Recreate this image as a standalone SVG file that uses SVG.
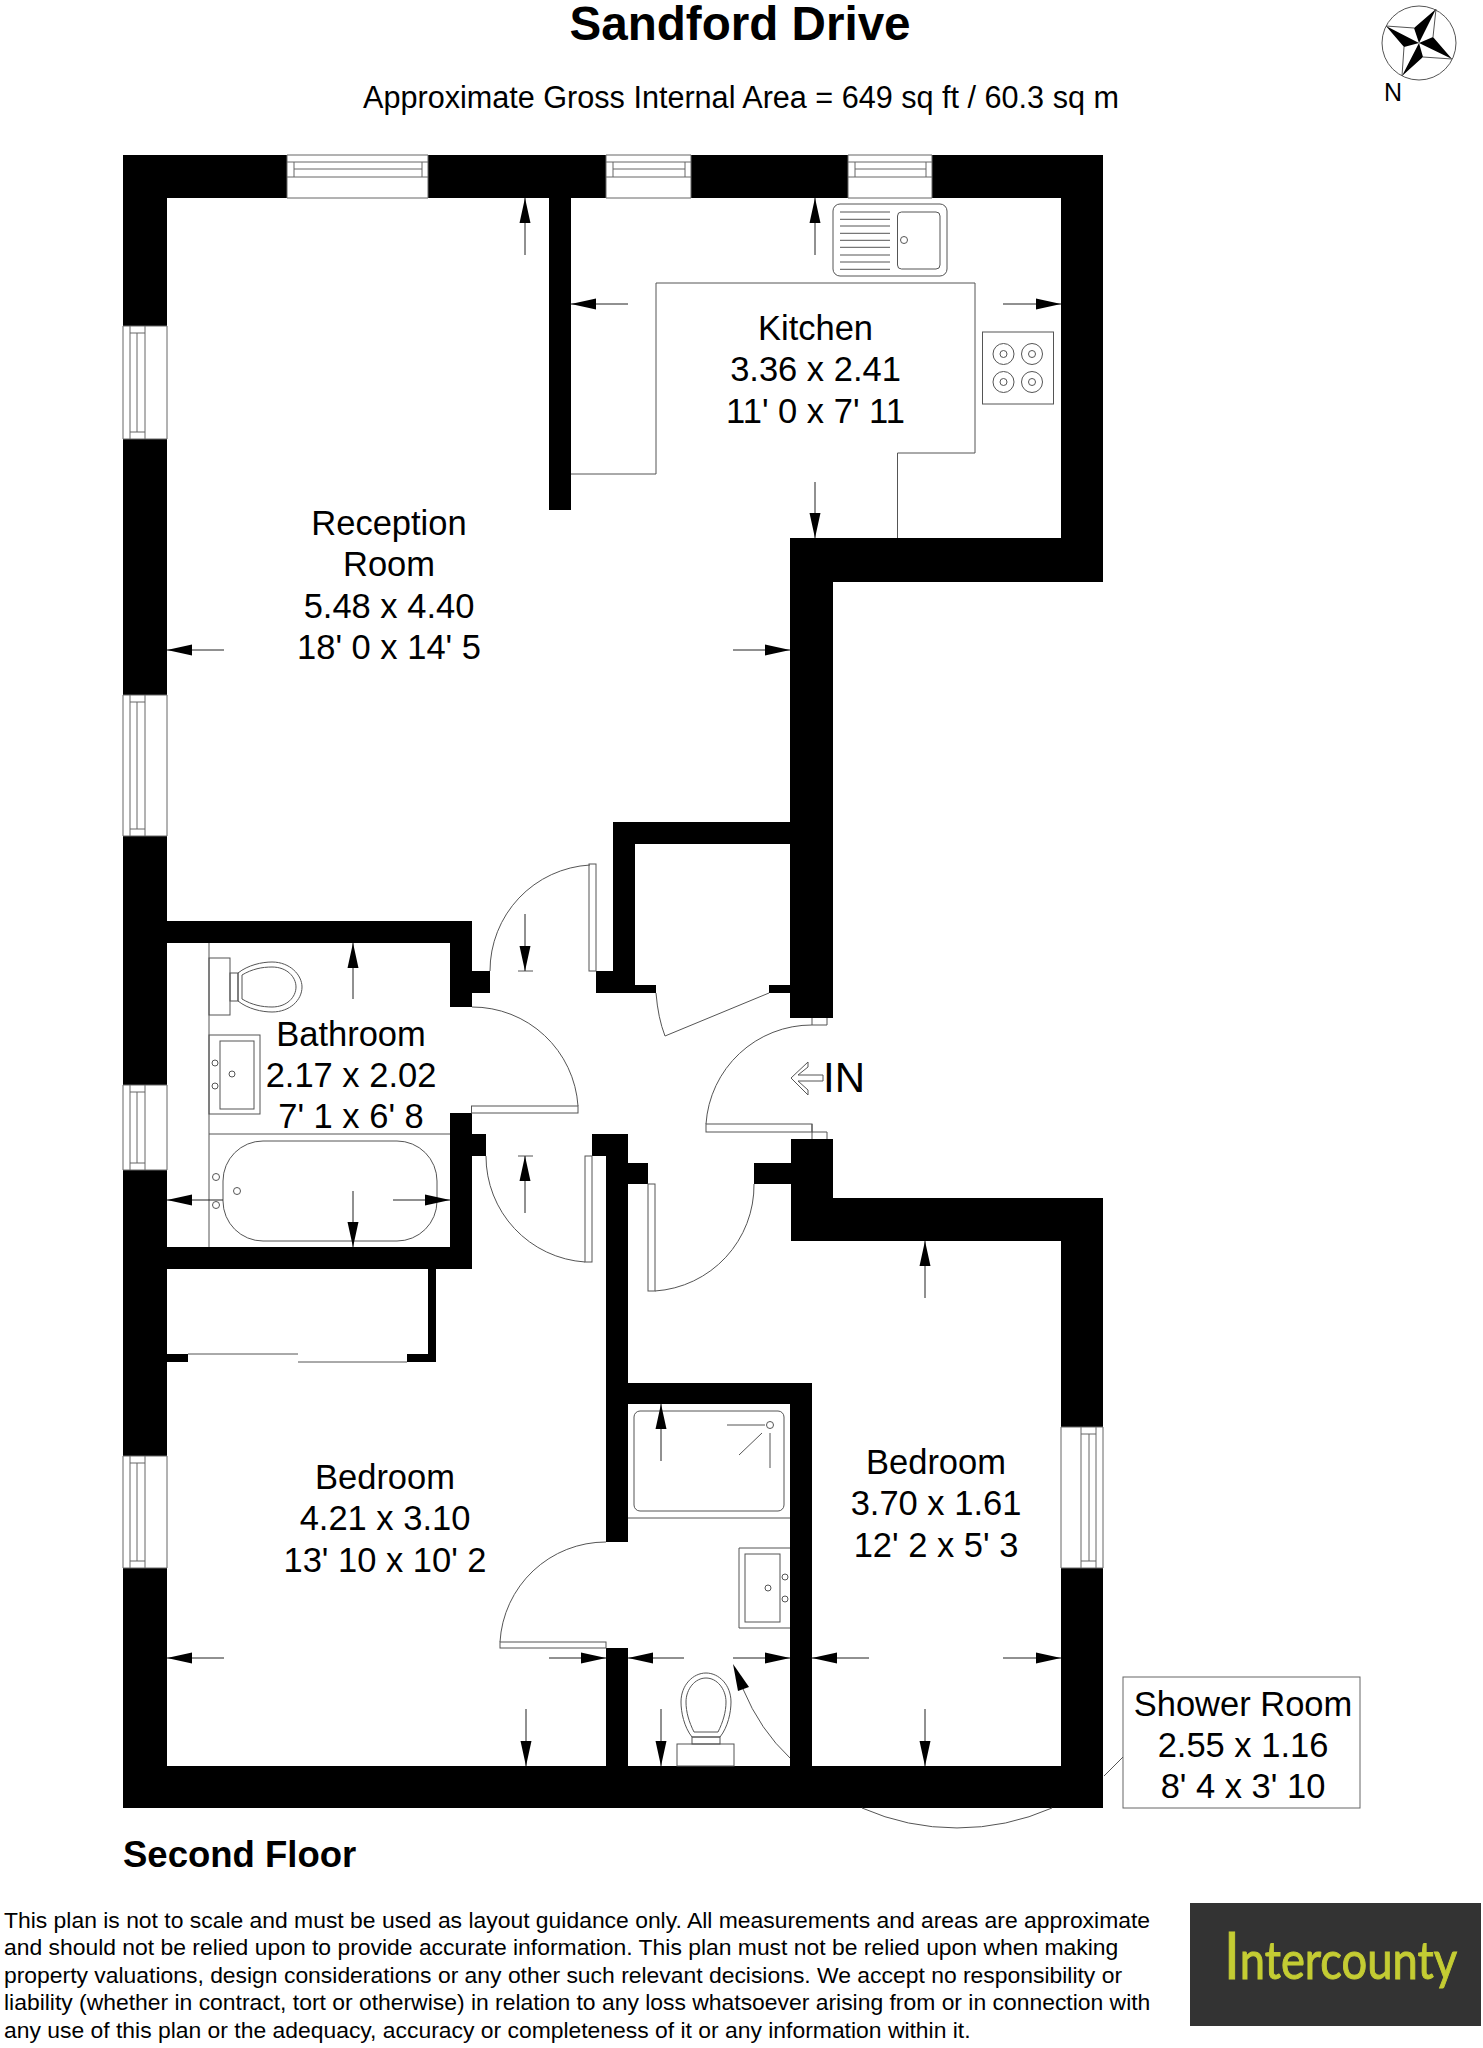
<svg xmlns="http://www.w3.org/2000/svg" width="1483" height="2048" viewBox="0 0 1483 2048">
<style>
text{font-family:"Liberation Sans",Arial,sans-serif;fill:#000}
.room{font-size:34.5px;text-anchor:middle}
.disc{font-size:22.9px}
.thin{fill:none;stroke:#555;stroke-width:1}
.win{fill:none;stroke:#666;stroke-width:1}
.dim{stroke:#222;stroke-width:1;fill:none;marker-end:url(#head)}
.wall{fill:#000}
</style>
<defs>
<marker id="head" markerUnits="userSpaceOnUse" markerWidth="26" markerHeight="12" refX="25" refY="6" orient="auto"><path d="M0,0.5L25,6L0,11.5Z" fill="#000"/></marker>
</defs>
<rect width="1483" height="2048" fill="#fff"/>
<text x="740" y="39.500" font-size="47.6" font-weight="bold" text-anchor="middle">Sandford Drive</text>
<text x="741" y="107.500" font-size="30.6" text-anchor="middle">Approximate Gross Internal Area = 649 sq ft / 60.3 sq m</text>
<g id="compass">
<circle cx="1419" cy="43" r="37" fill="#fff" stroke="#555" stroke-width="1"/>
<path d="M1436,9L1433,37M1452,59L1423,57M1402,76L1404,47M1386,26L1414,28" class="thin"/>
<path d="M1419,43L1436,9L1414,28ZM1419,43L1452,59L1433,37ZM1419,43L1402,76L1423,57ZM1419,43L1386,26L1404,47Z" fill="#000"/>
<text x="1384" y="101" font-size="25">N</text>
</g>
<g id="walls" class="wall">
<rect x="123" y="155" width="164" height="43"/><rect x="428" y="155" width="178" height="43"/><rect x="691" y="155" width="157" height="43"/><rect x="932" y="155" width="171" height="43"/>
<rect x="123" y="155" width="44" height="171"/><rect x="123" y="439" width="44" height="256"/><rect x="123" y="836" width="44" height="249"/><rect x="123" y="1170" width="44" height="286"/><rect x="123" y="1568" width="44" height="240"/>
<rect x="1061" y="155" width="42" height="427"/><rect x="790" y="538" width="313" height="44"/><rect x="790" y="538" width="43" height="480"/>
<rect x="549" y="198" width="22" height="312"/>
<rect x="167" y="921" width="305" height="22"/><rect x="450" y="921" width="22" height="86"/><rect x="472" y="971" width="18" height="22"/>
<rect x="450" y="1113" width="22" height="156"/><rect x="472" y="1134" width="14" height="22"/><rect x="167" y="1247" width="305" height="22"/>
<rect x="613" y="822" width="178" height="22"/><rect x="613" y="822" width="22" height="171"/><rect x="596" y="971" width="39" height="22"/><rect x="635" y="985" width="21" height="8"/><rect x="769" y="985" width="22" height="8"/>
<rect x="592" y="1134" width="36" height="22"/><rect x="606" y="1134" width="22" height="408"/><rect x="628" y="1163" width="20" height="21"/>
<rect x="606" y="1648" width="22" height="118"/>
<rect x="628" y="1383" width="184" height="21"/><rect x="790" y="1383" width="22" height="383"/>
<rect x="754" y="1163" width="37" height="21"/><rect x="791" y="1139" width="42" height="102"/><rect x="791" y="1198" width="312" height="43"/>
<rect x="1061" y="1198" width="42" height="229"/><rect x="1061" y="1568" width="42" height="240"/>
<rect x="123" y="1766" width="980" height="42"/>
<rect x="428" y="1269" width="8" height="93"/><rect x="167" y="1354" width="21" height="8"/><rect x="407" y="1354" width="29" height="8"/>
</g>
<g id="windows" class="win">
<path d="M287,155H428M287,162H428M294,169H422M287,177H428M287,198H428M294,162V177M422,162V177M287,155V198M428,155V198"/>
<path d="M606,155H691M606,162H691M613,169H685M606,177H691M606,198H691M613,162V177M685,162V177M606,155V198M691,155V198"/>
<path d="M848,155H932M848,162H932M855,169H926M848,177H932M848,198H932M855,162V177M926,162V177M848,155V198M932,155V198"/>
<path d="M123,326V439M130,326V439M137,333V432M145,326V439M167,326V439M130,333H145M130,432H145M123,326H167M123,439H167"/>
<path d="M123,695V836M130,695V836M137,702V829M145,695V836M167,695V836M130,702H145M130,829H145M123,695H167M123,836H167"/>
<path d="M123,1085V1170M130,1085V1170M137,1092V1163M145,1085V1170M167,1085V1170M130,1092H145M130,1163H145M123,1085H167M123,1170H167"/>
<path d="M123,1456V1568M130,1456V1568M137,1463V1561M145,1456V1568M167,1456V1568M130,1463H145M130,1561H145M123,1456H167M123,1568H167"/>
<path d="M1103,1427V1568M1096,1427V1568M1089,1434V1561M1081,1427V1568M1061,1427V1568M1081,1434H1096M1081,1561H1096M1061,1427H1103M1061,1568H1103"/>
</g>
<g id="doors" class="thin">
<rect x="589" y="864" width="7" height="107"/><path d="M490,971A106,106 0 0 1 590,865"/>
<rect x="471.500" y="1106" width="106.500" height="7"/><path d="M472,1007A106,106 0 0 1 578,1106"/>
<rect x="585" y="1156" width="7" height="106"/><path d="M486,1156A106,106 0 0 0 585,1262"/>
<rect x="648" y="1184" width="7" height="107"/><path d="M655,1291A106,106 0 0 0 754,1184"/>
<rect x="706" y="1124" width="106" height="8"/><path d="M812,1124V1139M812,1132H827V1139M812,1018V1025M827,1018V1025H812"/><path d="M706,1124A106,106 0 0 1 812,1025"/>
<path d="M656,993Q658,1018 665,1036L769,993"/>
<rect x="500" y="1642" width="106" height="6"/><path d="M606,1542A106,106 0 0 0 500,1642"/>
<path d="M862,1808A236,236 0 0 0 1052,1808"/>
<path d="M188,1354H298M298,1362H407"/>
<path d="M518,971H533M518,1156H533"/>
<path d="M790,1758Q760,1730 743,1689"/>
<path d="M733,1664L738,1691L749,1687Z" fill="#000" stroke="none"/>
</g>
<g id="kitchen-fixtures" class="thin">
<path d="M571,474H656V283H975V453H897.500V538"/>
<rect x="833" y="204" width="114" height="72" rx="7"/><rect x="897.500" y="212" width="42.500" height="57" rx="4"/><circle cx="904" cy="240" r="3.500"/>
<path d="M840,212H890M840,219.300H890M840,226H890M840,233.300H890M840,240.300H890M840,247.300H890M840,255H890M840,262H890M840,269.300H890"/>
<rect x="982.500" y="332" width="71" height="72"/>
<circle cx="1003.500" cy="354" r="10.500"/><circle cx="1032" cy="354" r="10.500"/><circle cx="1003.500" cy="382" r="10.500"/><circle cx="1032" cy="382" r="10.500"/>
<circle cx="1003.500" cy="354" r="3.500"/><circle cx="1032" cy="354" r="3.500"/><circle cx="1003.500" cy="382" r="3.500"/><circle cx="1032" cy="382" r="3.500"/>
</g>
<g id="bathroom-fixtures" class="thin">
<path d="M209,943V1247M209,1134H450"/>
<rect x="223" y="1141" width="214" height="100" rx="40"/>
<circle cx="216" cy="1177" r="3.500"/><circle cx="216" cy="1205" r="3.500"/><circle cx="237" cy="1191" r="3.500"/>
<rect x="209" y="958" width="21" height="57"/><rect x="230" y="973" width="8" height="28"/>
<path d="M238,973C248,965 262,962 272,962C290,962 302,975 302,987C302,1000 290,1012 272,1012C262,1012 248,1009 238,1001Z"/>
<path d="M242,975C252,969 262,967 272,967C287,967 296,977 296,987C296,997 287,1007 272,1007C262,1007 252,1005 242,999Z"/>
<rect x="209" y="1035" width="51" height="79"/><rect x="220" y="1041" width="34" height="68"/>
<circle cx="215" cy="1063" r="3"/><circle cx="215" cy="1086" r="3"/><circle cx="232" cy="1074" r="3"/>
</g>
<g id="shower-fixtures" class="thin">
<rect x="634" y="1411" width="150" height="100" rx="6"/><path d="M628,1518H790"/>
<circle cx="770" cy="1425" r="3.500"/><path d="M727,1425H765M770,1433V1468M762,1433L739,1455"/>
<path d="M790,1548H739V1628H790"/><rect x="745" y="1554" width="35" height="68"/>
<circle cx="785" cy="1577" r="3"/><circle cx="785" cy="1599" r="3"/><circle cx="768" cy="1588" r="3"/>
<rect x="677" y="1744" width="57" height="22"/><rect x="692" y="1737" width="28" height="7"/>
<path d="M692,1737C684,1727 681,1712 681,1702C681,1685 693,1673 706,1673C719,1673 731,1685 731,1702C731,1712 728,1727 720,1737Z"/>
<path d="M694,1732C689,1722 686,1712 686,1702C686,1689 695,1678 706,1678C717,1678 726,1689 726,1702C726,1712 723,1722 718,1732Z"/>
</g>
<g id="dimension-arrows">
<path class="dim" d="M525,255V198"/><path class="dim" d="M815,255V198"/><path class="dim" d="M628,304H571"/><path class="dim" d="M1003,304H1061"/><path class="dim" d="M815,482V538"/>
<path class="dim" d="M224,650H167"/><path class="dim" d="M733,650H790"/>
<path class="dim" d="M353,999V943"/><path class="dim" d="M353,1191V1247"/><path class="dim" d="M223,1200H167"/><path class="dim" d="M393,1200H450"/>
<path class="dim" d="M525,914V971"/><path class="dim" d="M525,1213V1156"/>
<path class="dim" d="M925,1298V1241"/><path class="dim" d="M661,1461V1404"/>
<path class="dim" d="M224,1658H167"/><path class="dim" d="M549,1658H606"/><path class="dim" d="M684,1658H628"/><path class="dim" d="M733,1658H790"/><path class="dim" d="M869,1658H812"/><path class="dim" d="M1003,1658H1061"/>
<path class="dim" d="M526,1709V1766"/><path class="dim" d="M661,1709V1766"/><path class="dim" d="M925,1709V1766"/>
</g>
<g id="entrance">
<path d="M791,1078L808,1062V1067L798,1075H823V1081H798L808,1090V1095Z" fill="#fff" stroke="#555" stroke-width="1"/>
<text x="823" y="1092" font-size="42">IN</text>
</g>
<g id="room-reception"><text class="room" x="389" y="534.500">Reception</text><text class="room" x="389" y="576">Room</text><text class="room" x="389" y="617.500">5.48 x 4.40</text><text class="room" x="389" y="659">18' 0 x 14' 5</text></g>
<g id="room-kitchen"><text class="room" x="815.500" y="339.500">Kitchen</text><text class="room" x="815.500" y="381">3.36 x 2.41</text><text class="room" x="815.500" y="422.500">11' 0 x 7' 11</text></g>
<g id="room-bathroom"><text class="room" x="351" y="1045.500">Bathroom</text><text class="room" x="351" y="1086.500">2.17 x 2.02</text><text class="room" x="351" y="1127.500">7' 1 x 6' 8</text></g>
<g id="room-bedroom-1"><text class="room" x="385" y="1488.500">Bedroom</text><text class="room" x="385" y="1530">4.21 x 3.10</text><text class="room" x="385" y="1571.500">13' 10 x 10' 2</text></g>
<g id="room-bedroom-2"><text class="room" x="936" y="1473.500">Bedroom</text><text class="room" x="936" y="1515">3.70 x 1.61</text><text class="room" x="936" y="1556.500">12' 2 x 5' 3</text></g>
<g id="room-shower">
<rect x="1123" y="1677" width="237" height="131" fill="#fff" stroke="#666" stroke-width="1"/>
<path d="M1104,1776L1123,1757" class="thin"/>
<text class="room" x="1243" y="1715.500">Shower Room</text><text class="room" x="1243" y="1757">2.55 x 1.16</text><text class="room" x="1243" y="1797.500">8' 4 x 3' 10</text>
</g>
<text x="123" y="1867" font-size="36.500" font-weight="bold">Second Floor</text>
<g id="disclaimer">
<text class="disc" x="4" y="1928">This plan is not to scale and must be used as layout guidance only. All measurements and areas are approximate</text>
<text class="disc" x="4" y="1955">and should not be relied upon to provide accurate information. This plan must not be relied upon when making</text>
<text class="disc" x="4" y="1983">property valuations, design considerations or any other such relevant decisions. We accept no responsibility or</text>
<text class="disc" x="4" y="2010">liability (whether in contract, tort or otherwise) in relation to any loss whatsoever arising from or in connection with</text>
<text class="disc" x="4" y="2037.500">any use of this plan or the adequacy, accuracy or completeness of it or any information within it.</text>
</g>
<g id="logo">
<rect x="1190" y="1903" width="291" height="123" fill="#333"/>
<text x="1224" y="1979" font-size="52" textLength="233" lengthAdjust="spacingAndGlyphs" style="font-family:Lato,'Open Sans',sans-serif;fill:#c4cc33;stroke:#c4cc33;stroke-width:1"><tspan font-size="65">I</tspan>ntercounty</text>
</g>
</svg>
